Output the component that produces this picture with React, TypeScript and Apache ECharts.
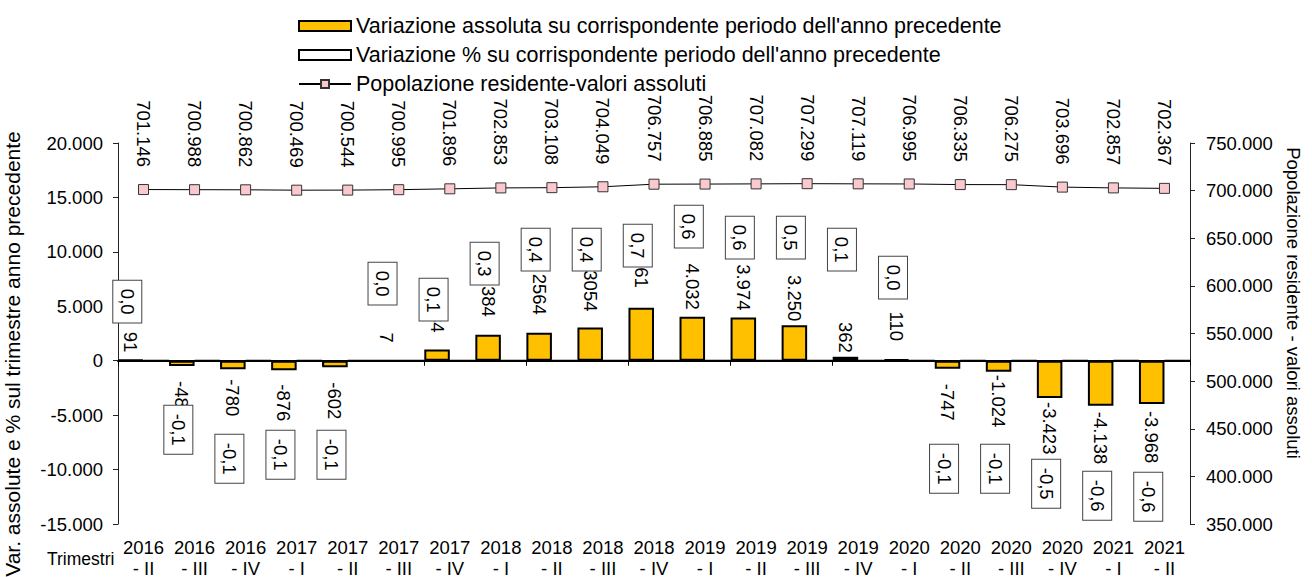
import React, { useEffect, useRef } from 'react';
import * as echarts from 'echarts';

const categories = [
  '2016 - II', '2016 - III', '2016 - IV', '2017 - I', '2017 - II', '2017 - III', '2017 - IV',
  '2018 - I', '2018 - II', '2018 - III', '2018 - IV', '2019 - I', '2019 - II', '2019 - III',
  '2019 - IV', '2020 - I', '2020 - II', '2020 - III', '2020 - IV', '2021 - I', '2021 - II',
];
const absChange = [91, -486, -780, -876, -602, 7, 1034, 2384, 2564, 3054, 4861, 4032, 3974, 3250, 362, 110, -747, -1024, -3423, -4138, -3968];
const absLabels = ['91', '-486', '-780', '-876', '-602', '7', '1034', '2384', '2564', '3054', '4861', '4.032', '3.974', '3.250', '362', '110', '-747', '-1.024', '-3.423', '-4.138', '-3.968'];
const pctChange = [0.0, -0.1, -0.1, -0.1, -0.1, 0.0, 0.1, 0.3, 0.4, 0.4, 0.7, 0.6, 0.6, 0.5, 0.1, 0.0, -0.1, -0.1, -0.5, -0.6, -0.6];
const population = [701146, 700988, 700862, 700469, 700544, 700995, 701896, 702853, 703108, 704049, 706757, 706885, 707082, 707299, 707119, 706995, 706335, 706275, 703696, 702857, 702367];

const seriesNames = [
  "Variazione assoluta su corrispondente periodo dell'anno precedente",
  "Variazione % su corrispondente periodo dell'anno precedente",
  'Popolazione residente-valori assoluti',
];
const leftAxisTitle = 'Var. assolute e % sul trimestre anno precedente';
const rightAxisTitle = 'Popolazione residente - valori assoluti';
const xAxisTitle = 'Trimestri';

// label layout hints (pixels), like manually placed labels in the original
const absLabelGap = [7, 15, 10, 14, 15, 17, 17, 18, 18, 16, 20, 7, 7, 4, 4, 18, 15, 3, 4, 6, 7];
const pctBoxShiftY = [-59, 69, 98, 94, 94, -77, -61, -97, -111, -111, -115, -134, -123, -123, -111, -83, 108, 108, 123, 135, 136];
const pctBoxShiftX = -29;

const FONT = 'Arial, "Liberation Sans", sans-serif';

function fmtThousands(v: number): string {
  const s = Math.abs(Math.round(v)).toString().replace(/\B(?=(\d{3})+(?!\d))/g, '.');
  return (v < 0 ? '-' : '') + s;
}

export default function App() {
  const ref = useRef<HTMLDivElement>(null);
  useEffect(() => {
    if (!ref.current) return;
    const chart = echarts.init(ref.current, undefined, { renderer: 'svg' });
    const option: any = {
      animation: false,
      backgroundColor: '#fff',
      textStyle: { fontFamily: FONT },
      grid: { left: 118, right: 122, top: 143, bottom: 53, containLabel: false, outerBoundsMode: 'none' },
      legend: {
        orient: 'vertical',
        left: 298,
        top: 14,
        padding: 0,
        itemWidth: 52,
        itemHeight: 10,
        itemGap: 5,
        selectedMode: false,
        textStyle: { fontSize: 21.5, color: '#000', fontFamily: FONT, lineHeight: 24 },
        data: [
          { name: seriesNames[0], icon: 'rect' },
          { name: seriesNames[1], icon: 'rect' },
          { name: seriesNames[2] },
        ],
      },
      xAxis: [
        {
          type: 'category',
          data: categories,
          boundaryGap: true,
          position: 'bottom',
          axisLine: { show: true, onZero: true, onZeroAxisIndex: 0, lineStyle: { color: '#000', width: 2 } },
          axisTick: { show: true, length: 5, lineStyle: { color: '#000', width: 1 } },
          axisLabel: { show: false },
          splitLine: { show: false },
        },
        {
          type: 'category',
          data: categories,
          boundaryGap: true,
          position: 'bottom',
          axisLine: { show: false, onZero: false },
          axisTick: { show: false },
          axisLabel: {
            interval: 0,
            margin: 13,
            fontSize: 18.5,
            lineHeight: 21,
            color: '#000',
            fontFamily: FONT,
            formatter: (s: string) => s.replace(' - ', '\n- '),
          },
          splitLine: { show: false },
        },
      ],
      yAxis: [
        {
          type: 'value',
          position: 'left',
          min: -15000,
          max: 20000,
          interval: 5000,
          axisLine: { show: true, lineStyle: { color: '#222', width: 1 } },
          axisTick: { show: true, length: 5, lineStyle: { color: '#222' } },
          splitLine: { show: false },
          axisLabel: { fontSize: 18.5, color: '#000', margin: 15, fontFamily: FONT, formatter: fmtThousands },
        },
        {
          type: 'value',
          position: 'right',
          min: 350000,
          max: 750000,
          interval: 50000,
          axisLine: { show: true, lineStyle: { color: '#222', width: 1 } },
          axisTick: { show: true, length: 5, lineStyle: { color: '#222' } },
          splitLine: { show: false },
          axisLabel: { fontSize: 18.5, color: '#000', margin: 16, fontFamily: FONT, formatter: fmtThousands },
        },
      ],
      series: [
        {
          name: seriesNames[0],
          type: 'bar',
          xAxisIndex: 0,
          yAxisIndex: 0,
          barGap: '0%',
          barCategoryGap: '0%',
          itemStyle: { color: '#FFC000', borderColor: '#000', borderWidth: 2 },
          label: {
            show: true,
            rotate: -90,
            verticalAlign: 'middle',
            fontSize: 18.5,
            color: '#000',
            fontFamily: FONT,
            formatter: (p: any) => absLabels[p.dataIndex],
          },
          data: absChange.map((v, i) => ({
            value: v,
            label: {
              position: v >= 0 ? 'top' : 'bottom',
              align: v >= 0 ? 'right' : 'left',
              distance: absLabelGap[i],
            },
          })),
          z: 2,
        },
        {
          name: seriesNames[1],
          type: 'bar',
          xAxisIndex: 0,
          yAxisIndex: 0,
          barGap: '0%',
          barCategoryGap: '0%',
          itemStyle: { color: '#fff', borderColor: '#000', borderWidth: 2 },
          label: {
            show: true,
            position: 'inside',
            rotate: -90,
            align: 'center',
            verticalAlign: 'middle',
            fontSize: 18.5,
            color: '#000',
            fontFamily: FONT,
            backgroundColor: '#fff',
            borderColor: '#444',
            borderWidth: 1,
            padding: [5, 8, 4, 8],
            formatter: (p: any) => Number(p.value).toFixed(1).replace('.', ','),
          },
          labelLayout: (p: any) => ({
            x: p.rect.x + p.rect.width / 2 + pctBoxShiftX,
            y: p.rect.y + p.rect.height / 2 + pctBoxShiftY[p.dataIndex],
          }),
          data: pctChange,
          z: 3,
        },
        {
          name: seriesNames[2],
          type: 'line',
          xAxisIndex: 0,
          yAxisIndex: 1,
          data: population,
          symbol: 'rect',
          symbolSize: 10,
          lineStyle: { color: '#000', width: 1 },
          itemStyle: { color: '#F9C9CD', borderColor: '#333', borderWidth: 1 },
          label: {
            show: true,
            position: 'top',
            distance: 17,
            rotate: -90,
            align: 'right',
            verticalAlign: 'middle',
            fontSize: 18.5,
            color: '#000',
            fontFamily: FONT,
            formatter: (p: any) => fmtThousands(p.value),
          },
          z: 4,
        },
      ],
      graphic: [
        {
          type: 'text',
          left: 47,
          top: 550,
          style: { text: xAxisTitle, fill: '#000', font: `17.5px ${FONT}` },
        },
        {
          type: 'text',
          x: 12,
          y: 354,
          rotation: Math.PI / 2,
          style: {
            text: leftAxisTitle,
            fill: '#000',
            font: `21px ${FONT}`,
            align: 'center',
            verticalAlign: 'middle',
          },
        },
        {
          type: 'text',
          x: 1293,
          y: 303,
          rotation: -Math.PI / 2,
          style: {
            text: rightAxisTitle,
            fill: '#000',
            font: `18.5px ${FONT}`,
            align: 'center',
            verticalAlign: 'middle',
          },
        },
      ],
    };
    chart.setOption(option);
    return () => chart.dispose();
  }, []);
  return <div ref={ref} style={{ position: 'fixed', left: 0, top: 0, width: 1312, height: 577, background: '#fff' }} />;
}
